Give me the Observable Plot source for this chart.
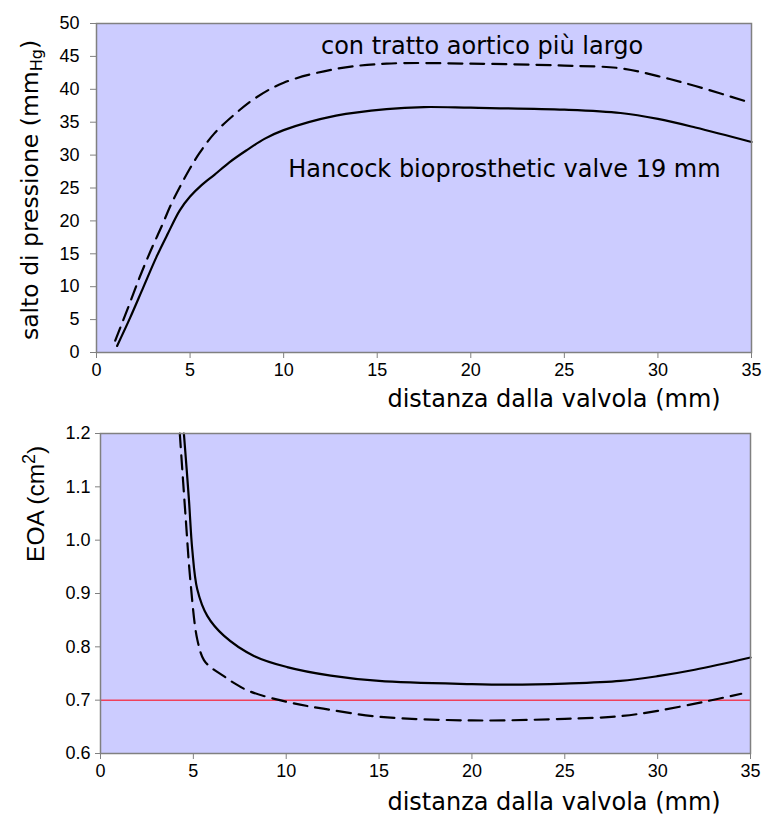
<!DOCTYPE html>
<html><head><meta charset="utf-8">
<script src="https://cdn.jsdelivr.net/npm/d3@7"></script>
<script src="https://cdn.jsdelivr.net/npm/@observablehq/plot@0.6"></script>
<style>body{margin:0;background:#fff} #chart svg{display:block}</style>
</head><body><div id="chart"></div>
<script>
// ---- data ----
const xTicks = [0, 5, 10, 15, 20, 25, 30, 35];
const yTicksPressure = [0, 5, 10, 15, 20, 25, 30, 35, 40, 45, 50];
const yTicksEOA = [0.6, 0.7, 0.8, 0.9, 1.0, 1.1, 1.2];

const pressSolidX = [1.1, 1.8, 2.5, 3.2, 3.8, 4.45, 5.0, 5.6, 6.3, 7.1, 8, 9, 10, 12.8, 15.5, 17.5, 20, 25, 28, 30, 32, 35];
const pressSolidY = [1.0, 5.3, 9.9, 14.5, 18.0, 21.6, 23.7, 25.4, 27.0, 28.9, 30.7, 32.5, 33.8, 36.0, 37.0, 37.3, 37.2, 36.9, 36.4, 35.5, 34.2, 32.0];
const pressDashX = [1.0, 1.7, 2.3, 2.9, 3.5, 4.0, 4.5, 5.0, 5.5, 6.3, 7.3, 8.4, 10, 12.8, 15.5, 20, 25, 28, 30, 32, 35];
const pressDashY = [1.8, 6.9, 11.4, 15.5, 19.3, 22.6, 25.4, 28.0, 30.3, 33.3, 36.0, 38.5, 41.0, 43.1, 43.9, 43.9, 43.6, 43.2, 42.0, 40.5, 37.9];

const eoaSolidX = [4.49, 4.76, 4.94, 5.21, 5.75, 6.64, 8.26, 10.05, 12.4, 15, 20, 22, 25, 28, 30, 32, 35];
const eoaSolidY = [1.2, 1.077, 0.983, 0.908, 0.858, 0.821, 0.783, 0.762, 0.746, 0.736, 0.730, 0.729, 0.731, 0.736, 0.745, 0.757, 0.780];
const eoaDashX = [4.27, 4.58, 4.85, 5.21, 5.57, 6.0, 6.64, 7.2, 8, 10, 12, 15, 20, 25, 28, 30, 32.5, 34.5];
const eoaDashY = [1.2, 1.045, 0.92, 0.814, 0.775, 0.760, 0.745, 0.732, 0.717, 0.697, 0.684, 0.669, 0.662, 0.665, 0.670, 0.680, 0.697, 0.712];
const eoaThreshold = [0.7];

const xTitle = "distanza dalla valvola (mm)";
const yTitlePressure = "salto di pressione (mm";
const yTitlePressureSub = "Hg";
const yTitleEOA = "EOA (cm";
const yTitleEOASup = "2";
const annotWide = "con tratto aortico più largo";
const annotValve = "Hancock bioprosthetic valve 19 mm";

// ---- helpers ----
const rows = (xs, ys) => xs.map((x, i) => ({x, y: ys[i]}));
const comic = "DejaVu Sans, sans-serif";
const arial = "Liberation Sans, Arial, sans-serif";
const lineStyle = {x: "x", y: "y", stroke: "black", strokeWidth: 2.2, curve: "catmull-rom"};
const baseStyle = {fontFamily: arial, fontSize: "18px", color: "black", background: "white", overflow: "visible"};

const topChart = Plot.plot({
  width: 772, height: 420,
  marginTop: 23, marginBottom: 68, marginLeft: 96, marginRight: 21,
  x: {domain: [0, 35]},
  y: {domain: [0, 50]},
  style: baseStyle,
  marks: [
    Plot.frame({fill: "#ccccff", stroke: null}),
    Plot.line(rows(pressDashX, pressDashY), {...lineStyle, strokeDasharray: "14,8"}),
    Plot.line(rows(pressSolidX, pressSolidY), lineStyle),
    Plot.frame({stroke: "#808080", strokeWidth: 1.5}),
    Plot.axisX({ticks: xTicks, tickSize: 6, tickPadding: 5, stroke: "#808080", fill: "black", label: null, fontSize: 18}),
    Plot.axisY({ticks: yTicksPressure, tickSize: 6, tickPadding: 11, stroke: "#808080", fill: "black", label: null, fontSize: 18}),
    Plot.text([annotWide], {x: 20.6, y: 45.4, text: d => d, lineAnchor: "bottom", fontFamily: comic, fontSize: 24, fill: "black"}),
    Plot.text([annotValve], {x: 21.8, y: 26.6, text: d => d, lineAnchor: "bottom", fontFamily: comic, fontSize: 24, fill: "black"}),
    Plot.text([xTitle], {text: d => d, frameAnchor: "bottom", dx: 130, dy: 54.7, lineAnchor: "bottom", fontFamily: comic, fontSize: 24, fill: "black"}),
    Plot.text([yTitlePressure], {text: d => d, frameAnchor: "left", rotate: -90, dx: -59, dy: 2, lineAnchor: "bottom", textAnchor: "middle", fontFamily: comic, fontSize: 23.5, fill: "black"})
  ]
});

const bottomChart = Plot.plot({
  width: 772, height: 396,
  marginTop: 13, marginBottom: 63, marginLeft: 100, marginRight: 22,
  x: {domain: [0, 35]},
  y: {domain: [0.6, 1.2]},
  style: baseStyle,
  marks: [
    Plot.frame({fill: "#ccccff", stroke: null}),
    Plot.ruleY(eoaThreshold, {stroke: "#f0405a", strokeWidth: 1.5}),
    Plot.line(rows(eoaDashX, eoaDashY), {...lineStyle, strokeDasharray: "14,8"}),
    Plot.line(rows(eoaSolidX, eoaSolidY), lineStyle),
    Plot.frame({stroke: "#808080", strokeWidth: 1.5}),
    Plot.axisX({ticks: xTicks, tickSize: 6, tickPadding: 5, stroke: "#808080", fill: "black", label: null, fontSize: 18}),
    Plot.axisY({ticks: yTicksEOA, tickFormat: d3.format(".1f"), tickSize: 5, tickPadding: 5, stroke: "#808080", fill: "black", label: null, fontSize: 18}),
    Plot.text([xTitle], {text: d => d, frameAnchor: "bottom", dx: 128.5, dy: 56.7, lineAnchor: "bottom", fontFamily: comic, fontSize: 24, fill: "black"}),
    Plot.text([yTitleEOA], {text: d => d, frameAnchor: "left", rotate: -90, dx: -57, dy: -89.7, lineAnchor: "bottom", textAnchor: "middle", fontFamily: arial, fontSize: 24.5, fill: "black"})
  ]
});

// subscript / superscript in the y titles
function addScript(svg, base, extra, sub) {
  d3.select(svg).selectAll("text").filter(function () { return this.textContent === base; })
    .each(function () {
      const t = d3.select(this);
      t.text(base);
      t.append("tspan").attr("font-size", sub ? "16px" : "18px").attr("dy", sub ? "0.3em" : "-0.5em").text(extra);
      t.append("tspan").attr("dy", sub ? "-0.2em" : "0.37em").text(")");
    });
}
addScript(topChart, yTitlePressure, yTitlePressureSub, true);
addScript(bottomChart, yTitleEOA, yTitleEOASup, false);

document.getElementById("chart").append(topChart, bottomChart);
</script></body></html>
